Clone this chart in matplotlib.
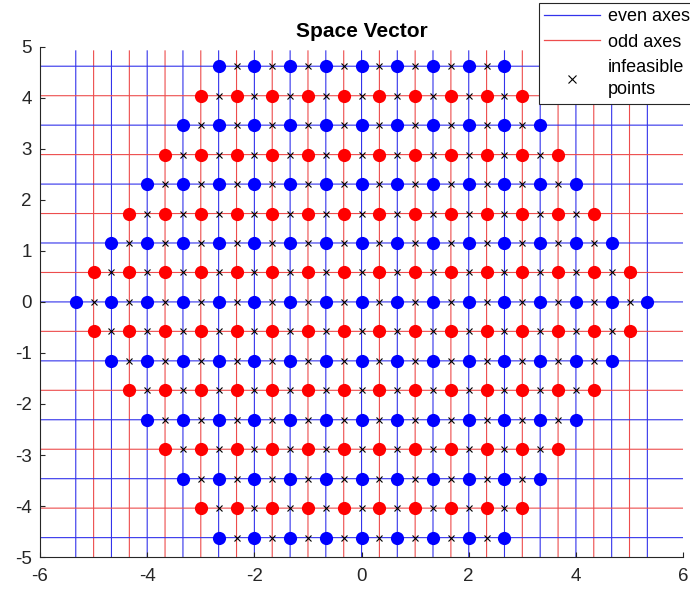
import numpy as np
import matplotlib
matplotlib.use('Agg')
import matplotlib.pyplot as plt
from matplotlib.lines import Line2D

plt.rcParams['font.family'] = ['Liberation Sans', 'DejaVu Sans']
plt.rcParams['axes.unicode_minus'] = False

# vertical axes (x positions)
even_x = [-5.333, -4.667, -4.0, -3.333, -2.667, -2.0, -1.333, -0.667, 0.0,
          0.667, 1.333, 2.0, 2.667, 3.333, 4.0, 4.667, 5.333]
odd_x = [-5.0, -4.333, -3.667, -3.0, -2.333, -1.667, -1.0, -0.333,
         0.333, 1.0, 1.667, 2.333, 3.0, 3.667, 4.333, 5.0]
# horizontal axes (y positions)
even_y = [-4.619, -3.464, -2.309, -1.155, 0.0, 1.155, 2.309, 3.464, 4.619]
odd_y = [-4.041, -2.887, -1.732, -0.577, 0.577, 1.732, 2.887, 4.041]

# one row of space vectors per horizontal axis, bottom to top
row_y = [-4.619, -4.041, -3.464, -2.887, -2.309, -1.732, -1.155, -0.577, 0.0,
         0.577, 1.155, 1.732, 2.309, 2.887, 3.464, 4.041, 4.619]
row_half = [2.667, 3.0, 3.333, 3.667, 4.0, 4.333, 4.667, 5.0, 5.333,
            5.0, 4.667, 4.333, 4.0, 3.667, 3.333, 3.0, 2.667]
row_odd = [0, 1, 0, 1, 0, 1, 0, 1, 0, 1, 0, 1, 0, 1, 0, 1, 0]

# all candidate x positions along a row
x_grid = [-5.333, -5.0, -4.667, -4.333, -4.0, -3.667, -3.333, -3.0, -2.667,
          -2.333, -2.0, -1.667, -1.333, -1.0, -0.667, -0.333, 0.0, 0.333,
          0.667, 1.0, 1.333, 1.667, 2.0, 2.333, 2.667, 3.0, 3.333, 3.667,
          4.0, 4.333, 4.667, 5.0, 5.333]

blue_ln = (0.2, 0.2, 0.92)
red_ln = (0.93, 0.3, 0.3)

fig = plt.figure(figsize=(6.9, 5.92), dpi=100)
ax = fig.add_axes([0.058, 0.059, 0.932, 0.862])

kw = dict(lw=0.8, zorder=1, snap=False)
ax.vlines(even_x, -5.5, 4.93, colors=[blue_ln], **kw)
ax.vlines(odd_x, -5.5, 4.93, colors=[red_ln], **kw)
ax.hlines(even_y, -6, 6, colors=[blue_ln], **kw)
ax.hlines(odd_y, -6, 6, colors=[red_ln], **kw)

grid = np.array(x_grid)
par = np.arange(len(grid)) % 2  # index 0 is -16/3 -> even
for y, h, o in zip(row_y, row_half, row_odd):
    inside = np.abs(grid) <= h + 1e-6
    dots = grid[inside & (par == o)]
    bad = grid[inside & (par != o)]
    ax.plot(bad, np.full(len(bad), y), 'x', color='k', ms=5, mew=0.8, zorder=2)
    ax.plot(dots, np.full(len(dots), y), 'o', color='r' if o else 'b',
            ms=9.5, mec='none', zorder=3)

ax.set_xlim(-6, 6)
ax.set_ylim(-5, 5)
ax.set_xticks(np.arange(-6, 7, 2))
ax.set_yticks(np.arange(-5, 6, 1))
ax.spines['top'].set_visible(False)
ax.spines['right'].set_visible(False)
for s in ['left', 'bottom']:
    ax.spines[s].set_color('#262626')
    ax.spines[s].set_linewidth(0.8)
ax.tick_params(direction='in', length=3.5, width=0.8, colors='#262626',
               labelsize=13.5)
ax.tick_params(axis='x', pad=8)
ax.tick_params(axis='y', pad=6)
ax.set_title('Space Vector', fontsize=15, fontweight='bold', pad=7)

handles = [Line2D([], [], color=blue_ln, lw=0.9),
           Line2D([], [], color=red_ln, lw=0.9),
           Line2D([], [], ls='none', marker='x', color='k', ms=6, mew=0.8)]
leg = fig.legend(handles, ['even axes', 'odd axes', 'infeasible\npoints'],
                 loc='upper left', bbox_to_anchor=(0.781, 0.995),
                 bbox_transform=fig.transFigure, fontsize=13,
                 fancybox=False, framealpha=1, edgecolor='#262626',
                 handlelength=3.1, borderpad=0.3, labelspacing=0.45,
                 handletextpad=0.4, borderaxespad=0)
leg.get_frame().set_linewidth(0.8)
leg.get_texts()[2].set_linespacing(1.45)

fig.savefig('out.png', dpi=100)
